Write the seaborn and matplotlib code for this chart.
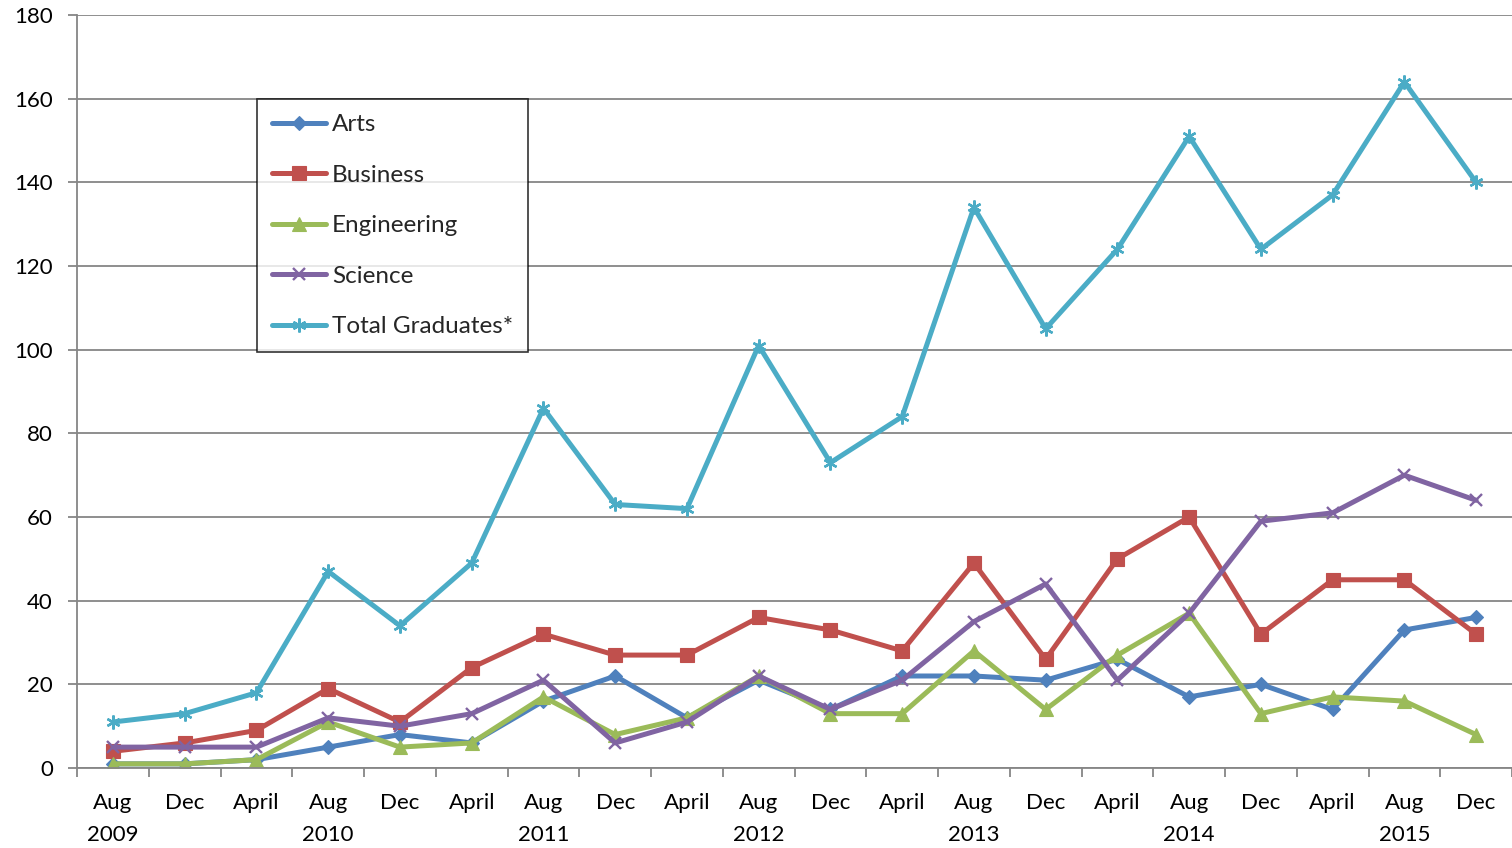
import matplotlib
matplotlib.use("Agg")
import matplotlib.pyplot as plt
import seaborn as sns
import pandas as pd
import numpy as np

# Graduation terms (Aug / Dec / April), with the year shown under each August
terms = ["Aug\n2009", "Dec", "April", "Aug\n2010", "Dec", "April",
         "Aug\n2011", "Dec", "April", "Aug\n2012", "Dec", "April",
         "Aug\n2013", "Dec", "April", "Aug\n2014", "Dec", "April",
         "Aug\n2015", "Dec"]

arts = [1, 1, 2, 5, 8, 6, 16, 22, 12, 21, 14, 22, 22, 21, 26, 17, 20, 14, 33, 36]
business = [4, 6, 9, 19, 11, 24, 32, 27, 27, 36, 33, 28, 49, 26, 50, 60, 32, 45, 45, 32]
engineering = [1, 1, 2, 11, 5, 6, 17, 8, 12, 22, 13, 13, 28, 14, 27, 37, 13, 17, 16, 8]
science = [5, 5, 5, 12, 10, 13, 21, 6, 11, 22, 14, 21, 35, 44, 21, 37, 59, 61, 70, 64]
total = [11, 13, 18, 47, 34, 49, 86, 63, 62, 101, 73, 84, 134, 105, 124, 151, 124, 137, 164, 140]

series_names = ["Arts", "Business", "Engineering", "Science", "Total Graduates*"]
series_values = [arts, business, engineering, science, total]
colors = ["#4F81BD", "#C0504D", "#9BBB59", "#8064A2", "#4BACC6"]
asterisk = (6, 2, 0)
markers = ["D", "s", "^", "x", asterisk]
msizes = [7.5, 9.5, 9.5, 9, 10]

rows = []
for name, vals in zip(series_names, series_values):
    for i, v in enumerate(vals):
        rows.append({"term": i, "graduates": v, "series": name})
df = pd.DataFrame(rows)

sns.set_style("white")
plt.rcParams["font.family"] = ["Lato", "DejaVu Sans"]

fig = plt.figure(figsize=(15.12, 8.48), dpi=100)
ax = fig.add_axes([0.051, 0.0943, 0.949, 0.8880])

for name, col, mk, ms in zip(series_names, colors, markers, msizes):
    sub = df[df["series"] == name]
    sns.lineplot(data=sub, x="term", y="graduates", ax=ax, color=col,
                 marker=mk, markersize=ms, linewidth=3.6, label=name,
                 markeredgecolor=col, markeredgewidth=1.7 if mk in ("x", asterisk) else 0.8,
                 estimator=None, sort=False)

ax.set_xlim(-0.5, len(terms) - 0.5)
ax.set_ylim(0, 180)
ax.set_yticks(np.arange(0, 181, 20))
ax.set_xticks(np.arange(len(terms)))
ax.set_xticklabels(terms, linespacing=1.72)
ax.set_xticks(np.arange(-0.5, len(terms), 1.0), minor=True)
ax.set_xlabel("")
ax.set_ylabel("")

grid_col = "#868686"
ax.yaxis.grid(True, color=grid_col, linewidth=1.3)
ax.set_axisbelow(True)
for side in ("top", "right"):
    ax.spines[side].set_visible(False)
for side in ("left", "bottom"):
    ax.spines[side].set_color(grid_col)
    ax.spines[side].set_linewidth(1.3)

ax.tick_params(axis="y", which="major", length=6.5, width=1.3, color=grid_col,
               pad=11, labelsize=16, labelcolor="black", left=True)
ax.tick_params(axis="x", which="major", length=0, pad=18, labelsize=16,
               labelcolor="black")
ax.tick_params(axis="x", which="minor", length=6.5, width=1.3, color=grid_col,
               bottom=True)

leg = ax.legend(loc="upper left", bbox_to_anchor=(0.1255, 0.888), frameon=True,
                fancybox=False, edgecolor="black", fontsize=17.5,
                handlelength=2.2, handletextpad=0.25, labelspacing=1.21,
                borderpad=0.62, borderaxespad=0)
leg.get_frame().set_linewidth(1.2)

fig.savefig("out.png", dpi=100, facecolor="white")
